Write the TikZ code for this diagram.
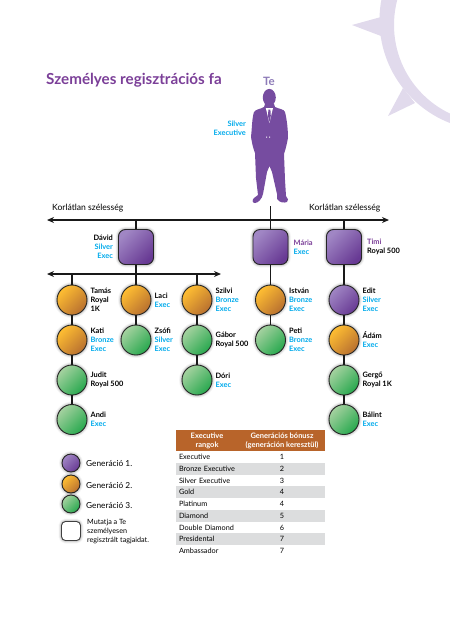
\documentclass[tikz,border=0pt]{standalone}
\usepackage{fontspec}
\setmainfont{Lato}
\usetikzlibrary{arrows.meta,positioning,shadows.blur}
\definecolor{titlepurple}{RGB}{123,63,152}
\definecolor{tepurple}{RGB}{142,124,184}
\definecolor{personpurple}{RGB}{118,76,160}
\definecolor{sunlilac}{RGB}{225,218,236}
\definecolor{execblue}{RGB}{0,170,235}
\definecolor{purplelight}{RGB}{160,134,196}
\definecolor{purpledark}{RGB}{104,58,148}
\definecolor{orangelight}{RGB}{255,190,50}
\definecolor{orangedark}{RGB}{184,112,48}
\definecolor{greenlight}{RGB}{165,210,160}
\definecolor{greendark}{RGB}{40,168,78}
\definecolor{headbrown}{RGB}{184,100,42}
\definecolor{rowgray}{RGB}{220,221,222}
\tikzset{
  glow/.style={blur shadow={shadow xshift=0pt, shadow yshift=0pt,
    shadow blur radius=3pt, shadow opacity=55}},
  gencirc/.style={circle, draw=black!85, line width=0.9pt, minimum size=30pt,
    inner sep=0pt, glow},
  genbox/.style={rectangle, rounded corners=7pt, draw=black!85, line width=0.9pt,
    minimum size=35pt, inner sep=0pt, glow,
    top color=purplelight, bottom color=purpledark, shading angle=45},
  genone/.style={gencirc, top color=purplelight, bottom color=purpledark, shading angle=45},
  gentwo/.style={gencirc, top color=orangelight, bottom color=orangedark, shading angle=45},
  genthree/.style={gencirc, top color=greenlight, bottom color=greendark, shading angle=45},
  smallcirc/.style={minimum size=18pt},
  keybox/.style={rectangle, rounded corners=4pt, draw=black!75, line width=0.9pt,
    fill=white, minimum size=19pt, inner sep=0pt, glow},
  namelab/.style={inner sep=0pt, align=left, font=\fontsize{7.4}{9}\selectfont\bfseries},
  keylab/.style={inner sep=0pt, align=left, anchor=west, font=\fontsize{8.3}{9}\selectfont},
  widthlab/.style={inner sep=0pt, font=\fontsize{8.6}{9}\selectfont},
  headcell/.style={inner sep=0pt, align=center, text=white, font=\fontsize{7.5}{9}\selectfont\bfseries},
  rowwhite/.style={rectangle, minimum width=149pt, minimum height=12pt, inner ysep=0pt,
    inner xsep=3pt, text width=143pt, align=left, font=\fontsize{7.3}{8}\selectfont},
  rowgrey/.style={rowwhite, fill=rowgray},
  numcell/.style={inner sep=0pt, font=\fontsize{7.3}{8}\selectfont},
  link/.style={line width=1.5pt, draw=black!90},
  widthline/.style={link, {Stealth[length=7pt,width=6pt]}-{Stealth[length=7pt,width=6pt]}}
}
\newcommand{\ex}[1]{\textcolor{execblue}{#1}}

\begin{document}
\begin{tikzpicture}[x=1pt, y=-1pt, node distance=3pt]
  \useasboundingbox (0,0) rectangle (450,638);

  % --- background sun ---
  \begin{scope}
    \clip (0,0) rectangle (450,638);
    \fill[sunlilac, even odd rule] (490,20) circle (110.5) (492,25) circle (98);
    \fill[sunlilac] (352,25) -- (381,17) -- (381,36) -- cycle;
    \fill[sunlilac] (388,116) -- (403,88) -- (415,103) -- cycle;
  \end{scope}

  % --- title ---
  \node[inner sep=0pt, anchor=west, text=titlepurple, font=\fontsize{15.2}{16}\selectfont\bfseries] (title)
       at (46,80) {Személyes regisztrációs fa};
  \node[inner sep=0pt, text=tepurple, font=\fontsize{11.5}{12}\selectfont\bfseries] (te) at (269,81) {Te};
  \node[namelab, align=right, anchor=east] (telab) at (246,128.5) {\ex{Silver}\\\ex{Executive}};

  % --- person ---
  \fill[personpurple] (269.3,97.5) ellipse (6.5 and 8.6);
  \fill[personpurple] (265,104) -- (274,104) -- (275,107) .. controls (279,109) and (284,109) .. (285,112)
    .. controls (287,120) and (288,130) .. (288,138) .. controls (287,143) and (286,148) .. (284,154)
    -- (285,180) -- (286,196) .. controls (288,198) and (289,201) .. (287,202)
    .. controls (284,203) and (280,203) .. (277,199) -- (277,194) -- (272,172) -- (269.5,166)
    -- (267,172) -- (263,194) .. controls (262,199) and (258,203) .. (255,203)
    .. controls (252,203) and (252,200) .. (254,198) -- (258,195) -- (256,178) -- (255,153)
    .. controls (253,148) and (252,143) .. (251,137) .. controls (252,128) and (252,118) .. (254,112)
    .. controls (256,109) and (261,109) .. (264,107) -- cycle;
  \fill[white] (265.8,108) -- (273,108) -- (269.4,123) -- cycle;
  \fill[personpurple] (268.4,109.5) -- (270.4,109.5) -- (270.8,116) -- (269.4,122) -- (268,116) -- cycle;
  \fill[white] (266,136.5) rectangle (267.2,137.7) (269,136.5) rectangle (270.2,137.7);

  % --- width labels and line ---
  \node[widthlab, anchor=west] (widthl) at (52,208) {Korlátlan szélesség};
  \node[widthlab, anchor=west] (widthr) at (309,208) {Korlátlan szélesség};
  \coordinate (linel) at (47,220);
  \coordinate (liner) at (389,220);
  \coordinate (feet) at (270.5,206);

  % --- first generation boxes ---
  \node[genbox] (david) at (136,247) {};
  \node[genbox] (maria) at (270.5,247) {};
  \node[genbox] (timi) at (344,247) {};
  \node[namelab, align=right, left=5pt of david] (davidlab) {Dávid\\\ex{Silver}\\\ex{Exec}};
  \node[namelab, right=5pt of maria] (marialab) {\textcolor{titlepurple}{Mária}\\\ex{Exec}};
  \node[namelab, right=5pt of timi] (timilab) {\textcolor{titlepurple}{Timi}\\Royal 500};

  \coordinate (genl) at (47,274);
  \coordinate (genr) at (221,274);

  % --- column Tamas ---
  \node[gentwo] (tamas) at (72,300) {};
  \node[gentwo] (kati) at (72,340) {};
  \node[genthree] (judit) at (72,380) {};
  \node[genthree] (andi) at (72,419.5) {};
  \node[namelab, right=of tamas] (tamaslab) {Tamás\\Royal\\1K};
  \node[namelab, right=of kati] (katilab) {Kati\\\ex{Bronze}\\\ex{Exec}};
  \node[namelab, right=of judit] (juditlab) {Judit\\Royal 500};
  \node[namelab, right=of andi] (andilab) {Andi\\\ex{Exec}};

  % --- column Laci ---
  \node[gentwo] (laci) at (136,300) {};
  \node[genthree] (zsofi) at (136,340) {};
  \node[namelab, right=of laci] (lacilab) {Laci\\\ex{Exec}};
  \node[namelab, right=of zsofi] (zsofilab) {Zsófi\\\ex{Silver}\\\ex{Exec}};

  % --- column Szilvi ---
  \node[gentwo] (szilvi) at (197,300) {};
  \node[genthree] (gabor) at (197,340) {};
  \node[genthree] (dori) at (197,380) {};
  \node[namelab, right=of szilvi] (szilvilab) {Szilvi\\\ex{Bronze}\\\ex{Exec}};
  \node[namelab, right=of gabor] (gaborlab) {Gábor\\Royal 500};
  \node[namelab, right=of dori] (dorilab) {Dóri\\\ex{Exec}};

  % --- column Istvan ---
  \node[gentwo] (istvan) at (270.5,300) {};
  \node[genthree] (peti) at (270.5,340) {};
  \node[namelab, right=of istvan] (istvanlab) {István\\\ex{Bronze}\\\ex{Exec}};
  \node[namelab, right=of peti] (petilab) {Peti\\\ex{Bronze}\\\ex{Exec}};

  % --- column Edit ---
  \node[genone] (edit) at (344,300) {};
  \node[gentwo] (adam) at (344,340) {};
  \node[genthree] (gergo) at (344,380) {};
  \node[genthree] (balint) at (344,419.5) {};
  \node[namelab, right=of edit] (editlab) {Edit\\\ex{Silver}\\\ex{Exec}};
  \node[namelab, right=of adam] (adamlab) {Ádám\\\ex{Exec}};
  \node[namelab, right=of gergo] (gergolab) {Gergő\\Royal 1K};
  \node[namelab, right=of balint] (balintlab) {Bálint\\\ex{Exec}};

  % ---------------- edges ----------------
  \draw[widthline] (linel) -- (liner);
  \draw[link] (feet) -- (maria);
  \draw[link] (david.north) -- (david.north |- linel);
  \draw[link] (timi.north) -- (timi.north |- linel);
  \draw[widthline] (genl) -- (genr);
  \draw[link] (david) -- (laci);
  \draw[link] (tamas.north) -- (tamas.north |- genl);
  \draw[link] (szilvi.north) -- (szilvi.north |- genl);
  \draw[link] (tamas) -- (kati);
  \draw[link] (kati) -- (judit);
  \draw[link] (judit) -- (andi);
  \draw[link] (laci) -- (zsofi);
  \draw[link] (szilvi) -- (gabor);
  \draw[link] (gabor) -- (dori);
  \draw[link] (maria) -- (istvan);
  \draw[link] (istvan) -- (peti);
  \draw[link] (timi) -- (edit);
  \draw[link] (edit) -- (adam);
  \draw[link] (adam) -- (gergo);
  \draw[link] (gergo) -- (balint);

  % --- legend ---
  \node[genone, smallcirc] (keyone) at (71,463) {};
  \node[gentwo, smallcirc] (keytwo) at (71,484) {};
  \node[genthree, smallcirc] (keythree) at (71,504) {};
  \node[keybox] (keyown) at (71,531) {};
  \node[keylab] (keyonelab) at (86,463) {Generáció 1.};
  \node[keylab] (keytwolab) at (86,485) {Generáció 2.};
  \node[keylab] (keythreelab) at (86,505) {Generáció 3.};
  \node[keylab, font=\fontsize{7.2}{8.6}\selectfont] (keyownlab) at (87,531.5)
       {Mutatja a Te\\személyesen\\regisztrált tagjaidat.};

  % --- table ---
  \node[rectangle, fill=headbrown, minimum width=149pt, minimum height=21pt, inner sep=0pt] (thead) at (250.5,440.5) {};
  \node[headcell] (theadl) at (207,440.5) {Executive\\rangok};
  \node[headcell] (theadr) at (282,440.5) {Generációs bónusz\\(generáción keresztül)};

  \node[rowwhite] (rowa) at (250.5,457) {Executive};
  \node[rowgrey] (rowb) at (250.5,469) {Bronze Executive};
  \node[rowwhite] (rowc) at (250.5,480.5) {Silver Executive};
  \node[rowgrey] (rowd) at (250.5,492) {Gold};
  \node[rowwhite] (rowe) at (250.5,504) {Platinum};
  \node[rowgrey] (rowf) at (250.5,516) {Diamond};
  \node[rowwhite] (rowg) at (250.5,528) {Double Diamond};
  \node[rowgrey] (rowh) at (250.5,539) {Presidental};
  \node[rowwhite] (rowi) at (250.5,551) {Ambassador};

  \node[numcell] (numa) at (282,457) {1};
  \node[numcell] (numb) at (282,469) {2};
  \node[numcell] (numc) at (282,480.5) {3};
  \node[numcell] (numd) at (282,492) {4};
  \node[numcell] (nume) at (282,504) {4};
  \node[numcell] (numf) at (282,516) {5};
  \node[numcell] (numg) at (282,528) {6};
  \node[numcell] (numh) at (282,539) {7};
  \node[numcell] (numi) at (282,551) {7};

\end{tikzpicture}
\end{document}
